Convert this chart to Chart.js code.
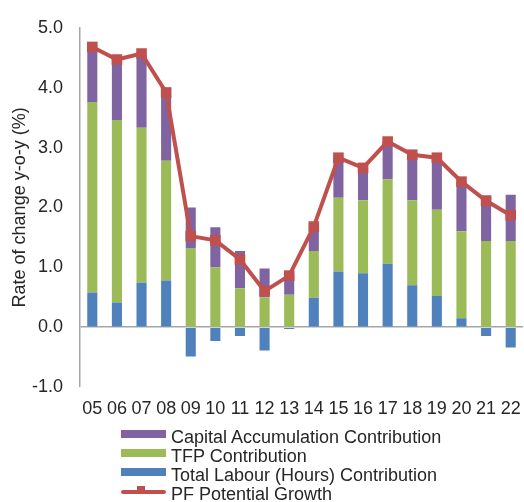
<!DOCTYPE html>
<html>
<head>
<meta charset="utf-8">
<script src="https://cdn.jsdelivr.net/npm/chart.js@4/dist/chart.umd.min.js"></script>
<style>
  html, body { margin: 0; padding: 0; background: #fff; }
  #wrap { position: relative; width: 524px; height: 502px; }
  #c { position: absolute; left: 0; top: 0; }
  #legend { position: absolute; left: 121px; top: 428px; font-family: "Liberation Sans", Arial, sans-serif; font-size: 18px; color: #262626; }
  .item { position: relative; height: 19px; line-height: 19px; white-space: nowrap; }
  .sw { position: absolute; left: 0; top: 2px; width: 45px; height: 8px; }
  .ln { position: absolute; left: 0; top: 5px; width: 45px; height: 4px; border-radius: 2px; }
  .mk { position: absolute; left: 16px; top: 1px; width: 8px; height: 7px; }
  .tx { position: absolute; left: 50px; top: 0; }
</style>
</head>
<body>
<div id="wrap">
  <canvas id="c" width="524" height="502"></canvas>
  <div id="legend"></div>
</div>
<script>
const years = ['05','06','07','08','09','10','11','12','13','14','15','16','17','18','19','20','21','22'];
const labour  = [0.58, 0.41, 0.74, 0.78, -0.49, -0.23, -0.15, -0.39, -0.03, 0.49, 0.93, 0.90, 1.06, 0.70, 0.52, 0.15, -0.15, -0.34];
const tfp     = [3.18, 3.05, 2.59, 2.00, 1.32, 1.00, 0.65, 0.50, 0.54, 0.78, 1.23, 1.22, 1.41, 1.42, 1.44, 1.45, 1.44, 1.44];
const capital = [0.90, 1.02, 1.23, 1.12, 0.68, 0.67, 0.62, 0.48, 0.33, 0.42, 0.67, 0.54, 0.63, 0.76, 0.87, 0.83, 0.76, 0.77];
const growth  = [4.68, 4.47, 4.57, 3.92, 1.52, 1.45, 1.13, 0.60, 0.86, 1.68, 2.83, 2.66, 3.10, 2.88, 2.83, 2.43, 2.11, 1.87];
const yTicks = [-1, 0, 1, 2, 3, 4, 5];

const names = {
  capital: 'Capital Accumulation Contribution',
  tfp: 'TFP Contribution',
  labour: 'Total Labour (Hours) Contribution',
  growth: 'PF Potential Growth'
};
const colors = { capital: '#8064A2', tfp: '#9BBB59', labour: '#4F81BD', growth: '#C0504D' };

const FONT = "'Liberation Sans', Arial, sans-serif";
const TXT = '#262626';

const barCommon = { type: 'bar', stack: 's', barPercentage: 0.41, categoryPercentage: 1.0, borderWidth: 0, order: 2 };

const chart = new Chart(document.getElementById('c'), {
  data: {
    labels: years,
    datasets: [
      Object.assign({ label: names.labour, data: labour, backgroundColor: colors.labour }, barCommon),
      Object.assign({ label: names.tfp, data: tfp, backgroundColor: colors.tfp }, barCommon),
      Object.assign({ label: names.capital, data: capital, backgroundColor: colors.capital }, barCommon),
      {
        type: 'line', label: names.growth, data: growth, order: 1,
        borderColor: colors.growth, backgroundColor: colors.growth,
        borderWidth: 4, pointStyle: 'rect', pointRadius: 7.5, pointHoverRadius: 7.5,
        pointBorderWidth: 0, tension: 0, clip: false
      }
    ]
  },
  options: {
    responsive: false,
    animation: false,
    layout: { autoPadding: false, padding: { left: 0, right: 1, top: 20, bottom: 75 } },
    plugins: { legend: { display: false }, tooltip: { enabled: false } },
    scales: {
      x: {
        stacked: true,
        grid: { display: false, drawTicks: true, tickLength: 11 },
        border: { display: false },
        ticks: { color: TXT, font: { family: FONT, size: 18 }, padding: 0, maxRotation: 0, autoSkip: false },
        afterFit: s => { s.height = 40; s.paddingLeft = 0; s.paddingRight = 0; }
      },
      y: {
        stacked: true,
        min: -1, max: 5,
        afterBuildTicks: s => { s.ticks = yTicks.map(v => ({ value: v })); },
        ticks: { color: TXT, font: { family: FONT, size: 18 }, padding: 17, callback: v => Number(v).toFixed(1) },
        grid: {
          drawTicks: false,
          color: ctx => (ctx.tick && ctx.tick.value === 0 ? '#A6A6A6' : 'rgba(0,0,0,0)'),
          lineWidth: ctx => (ctx.tick && ctx.tick.value === 0 ? 1.5 : 0)
        },
        border: { display: true, color: '#A6A6A6', width: 1.5 },
        title: { display: true, text: 'Rate of change y-o-y (%)', color: TXT, font: { family: FONT, size: 18 }, padding: { top: 9, bottom: 0 } },
        afterFit: s => { s.width = 80; }
      }
    }
  }
});

// HTML legend (order as in reference)
const legendOrder = ['capital', 'tfp', 'labour', 'growth'];
const lg = document.getElementById('legend');
legendOrder.forEach(k => {
  const it = document.createElement('div');
  it.className = 'item';
  if (k === 'growth') {
    it.innerHTML = '<div class="ln" style="background:' + colors[k] + '"></div><div class="mk" style="background:' + colors[k] + '"></div><span class="tx">' + names[k] + '</span>';
  } else {
    it.innerHTML = '<div class="sw" style="background:' + colors[k] + '"></div><span class="tx">' + names[k] + '</span>';
  }
  lg.appendChild(it);
});
</script>
</body>
</html>
